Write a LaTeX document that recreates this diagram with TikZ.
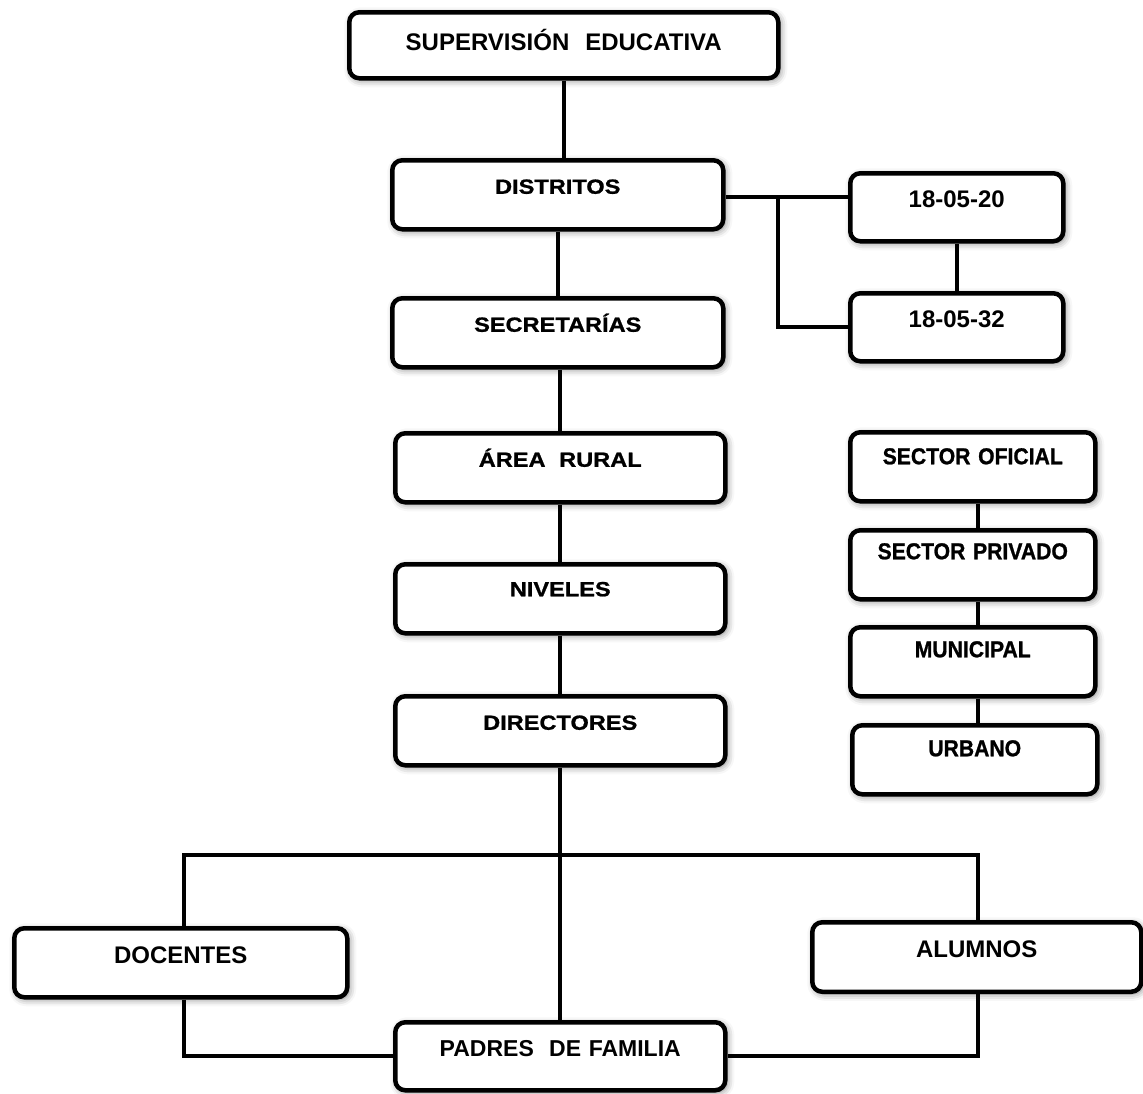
\documentclass[tikz,border=0pt]{standalone}
\usepackage{fontspec}
\setmainfont{Liberation Sans}
\newfontfamily\ancha{Liberation Sans Bold}[FakeStretch=1.15,FakeBold=1]
\newfontfamily\estrecha{Liberation Sans Bold}[FakeStretch=0.92,FakeBold=1]
\usetikzlibrary{shadows.blur}
\newcommand\caja[6]{%
% box with its text near the top edge
    \node[cajon,#5,text width=#4pt] (#1) at (#2,#3) {#6};
    }

\begin{document}
\begin{tikzpicture}[x={(1pt,0pt)},y={(0pt,-1pt)},
    cajon/.style={draw=black,line width=4.5pt,rounded corners=10pt,fill=white,
        anchor=north west,align=center,inner xsep=0pt,inner ysep=0pt,
        blur shadow={shadow xshift=2pt,shadow yshift=-2pt,shadow blur radius=7pt,shadow opacity=50}},
    ancho/.style={font=\fontsize{20.5}{24}\selectfont\ancha,text height=33.5pt,text depth=35.5pt},
    normal/.style={font=\fontsize{24}{28}\selectfont\bfseries,text height=35pt,text depth=34pt},
    sector/.style={font=\fontsize{23}{28}\selectfont\estrecha,text height=30pt,text depth=39pt},
    linea/.style={line width=4pt,black}]
    \useasboundingbox (0,0) rectangle (1143,1093);

    % central column
    \caja{sup}{347}{10}{429}{normal,text height=38pt,text depth=28pt}{SUPERVISIÓN\ \ EDUCATIVA}
    \caja{dis}{390}{158}{331}{ancho}{DISTRITOS}
    \caja{sec}{390}{296}{331}{ancho}{SECRETARÍAS}
    \caja{are}{393}{431}{330}{ancho}{ÁREA\ \ RURAL}
    \caja{niv}{393}{562}{330}{ancho,text height=32pt,text depth=37pt}{NIVELES}
    \caja{dir}{393}{694}{330}{ancho}{DIRECTORES}
    \caja{pad}{393}{1020}{330}{normal,font=\fontsize{23}{28}\selectfont\bfseries,text height=34pt}{PADRES\ \ DE FAMILIA}

    % districts
    \caja{d20}{848}{171}{213}{normal,text height=34pt}{18-05-20}
    \caja{d32}{848}{291}{213}{normal,text height=34pt}{18-05-32}

    % sectors
    \caja{ofi}{848}{430}{245}{sector,text height=32pt,text depth=37pt}{SECTOR OFICIAL}
    \caja{pri}{848}{528}{245}{sector,text height=29pt,text depth=40pt}{SECTOR PRIVADO}
    \caja{mun}{848}{625}{245}{sector}{MUNICIPAL}
    \caja{urb}{850}{723}{245}{sector,text height=31pt,text depth=38pt}{URBANO}

    % bottom row
    \caja{doc}{12}{926}{333}{normal}{DOCENTES}
    \caja{alu}{810}{920}{329}{normal,text height=35.5pt}{ALUMNOS}

    \coordinate (jd) at (778,197);
    \coordinate (izq) at (184,855);
    \coordinate (der) at (978,855);
    \coordinate (cs) at (978,0);

    \draw[linea] (sup.south) -- (sup.south |- dis.north);
    \draw[linea] (dis.south) -- (sec.north);
    \draw[linea] (are.north |- sec.south) -- (are.north);
    \draw[linea] (are.south) -- (niv.north);
    \draw[linea] (niv.south) -- (dir.north);
    \draw[linea] (dir.south) -- (pad.north);
    \draw[linea] (dis.east |- jd) -- (d20.west |- jd);
    \draw[linea] (jd) |- (d32.west);
    \draw[linea] (d20.south) -- (d32.north);
    \draw[linea] (cs |- ofi.south) -- (cs |- pri.north);
    \draw[linea] (cs |- pri.south) -- (cs |- mun.north);
    \draw[linea] (cs |- mun.south) -- (cs |- urb.north);
    \draw[linea] (izq |- doc.north) -- (izq) -- (der) -- (der |- alu.north);
    \draw[linea] (izq |- doc.south) |- (pad.west);
    \draw[linea] (der |- alu.south) |- (pad.east);
\end{tikzpicture}
\end{document}
